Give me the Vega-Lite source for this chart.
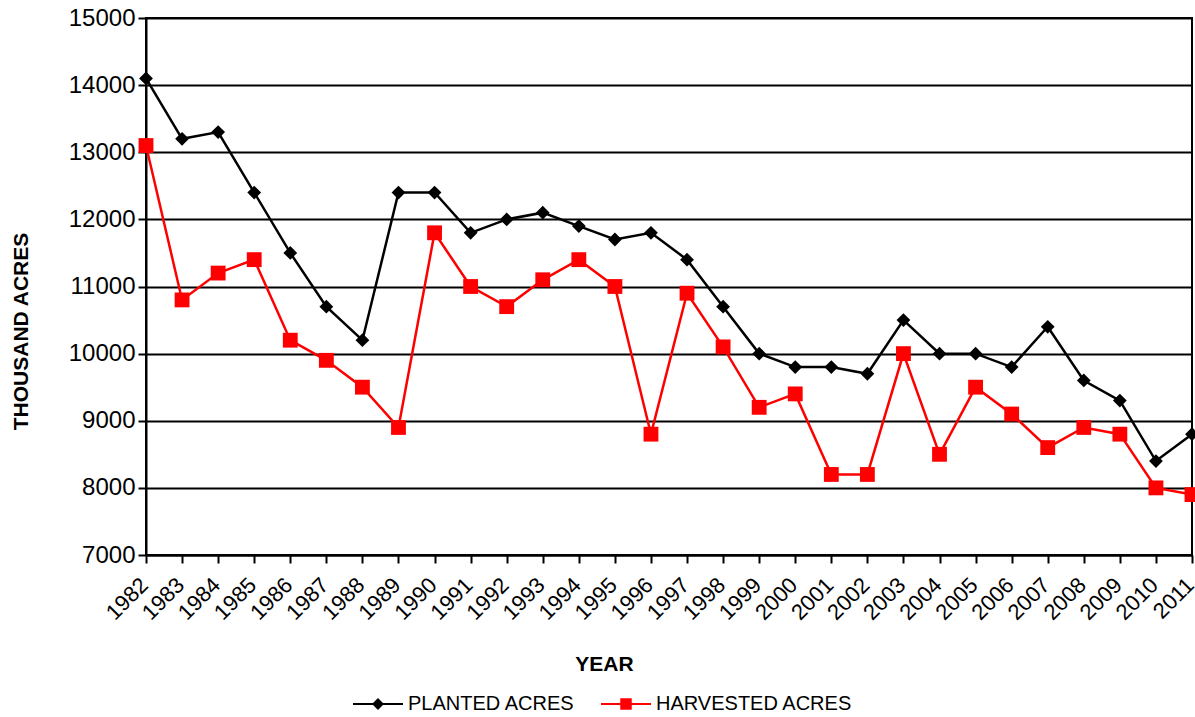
{
  "$schema": "https://vega.github.io/schema/vega-lite/v6.json",
  "autosize": {"type": "none"},
  "padding": {"left": 146, "top": 18, "right": 3, "bottom": 162},
  "width": 1046,
  "height": 537,
  "background": "white",
  "config": {"view": {"stroke": "black", "strokeWidth": 2}, "font": "Liberation Sans"},
  "data": {"values": [
    {"year": "1982", "series": "PLANTED ACRES", "acres": 14100},
    {"year": "1983", "series": "PLANTED ACRES", "acres": 13200},
    {"year": "1984", "series": "PLANTED ACRES", "acres": 13300},
    {"year": "1985", "series": "PLANTED ACRES", "acres": 12400},
    {"year": "1986", "series": "PLANTED ACRES", "acres": 11500},
    {"year": "1987", "series": "PLANTED ACRES", "acres": 10700},
    {"year": "1988", "series": "PLANTED ACRES", "acres": 10200},
    {"year": "1989", "series": "PLANTED ACRES", "acres": 12400},
    {"year": "1990", "series": "PLANTED ACRES", "acres": 12400},
    {"year": "1991", "series": "PLANTED ACRES", "acres": 11800},
    {"year": "1992", "series": "PLANTED ACRES", "acres": 12000},
    {"year": "1993", "series": "PLANTED ACRES", "acres": 12100},
    {"year": "1994", "series": "PLANTED ACRES", "acres": 11900},
    {"year": "1995", "series": "PLANTED ACRES", "acres": 11700},
    {"year": "1996", "series": "PLANTED ACRES", "acres": 11800},
    {"year": "1997", "series": "PLANTED ACRES", "acres": 11400},
    {"year": "1998", "series": "PLANTED ACRES", "acres": 10700},
    {"year": "1999", "series": "PLANTED ACRES", "acres": 10000},
    {"year": "2000", "series": "PLANTED ACRES", "acres": 9800},
    {"year": "2001", "series": "PLANTED ACRES", "acres": 9800},
    {"year": "2002", "series": "PLANTED ACRES", "acres": 9700},
    {"year": "2003", "series": "PLANTED ACRES", "acres": 10500},
    {"year": "2004", "series": "PLANTED ACRES", "acres": 10000},
    {"year": "2005", "series": "PLANTED ACRES", "acres": 10000},
    {"year": "2006", "series": "PLANTED ACRES", "acres": 9800},
    {"year": "2007", "series": "PLANTED ACRES", "acres": 10400},
    {"year": "2008", "series": "PLANTED ACRES", "acres": 9600},
    {"year": "2009", "series": "PLANTED ACRES", "acres": 9300},
    {"year": "2010", "series": "PLANTED ACRES", "acres": 8400},
    {"year": "2011", "series": "PLANTED ACRES", "acres": 8800},
    {"year": "1982", "series": "HARVESTED ACRES", "acres": 13100},
    {"year": "1983", "series": "HARVESTED ACRES", "acres": 10800},
    {"year": "1984", "series": "HARVESTED ACRES", "acres": 11200},
    {"year": "1985", "series": "HARVESTED ACRES", "acres": 11400},
    {"year": "1986", "series": "HARVESTED ACRES", "acres": 10200},
    {"year": "1987", "series": "HARVESTED ACRES", "acres": 9900},
    {"year": "1988", "series": "HARVESTED ACRES", "acres": 9500},
    {"year": "1989", "series": "HARVESTED ACRES", "acres": 8900},
    {"year": "1990", "series": "HARVESTED ACRES", "acres": 11800},
    {"year": "1991", "series": "HARVESTED ACRES", "acres": 11000},
    {"year": "1992", "series": "HARVESTED ACRES", "acres": 10700},
    {"year": "1993", "series": "HARVESTED ACRES", "acres": 11100},
    {"year": "1994", "series": "HARVESTED ACRES", "acres": 11400},
    {"year": "1995", "series": "HARVESTED ACRES", "acres": 11000},
    {"year": "1996", "series": "HARVESTED ACRES", "acres": 8800},
    {"year": "1997", "series": "HARVESTED ACRES", "acres": 10900},
    {"year": "1998", "series": "HARVESTED ACRES", "acres": 10100},
    {"year": "1999", "series": "HARVESTED ACRES", "acres": 9200},
    {"year": "2000", "series": "HARVESTED ACRES", "acres": 9400},
    {"year": "2001", "series": "HARVESTED ACRES", "acres": 8200},
    {"year": "2002", "series": "HARVESTED ACRES", "acres": 8200},
    {"year": "2003", "series": "HARVESTED ACRES", "acres": 10000},
    {"year": "2004", "series": "HARVESTED ACRES", "acres": 8500},
    {"year": "2005", "series": "HARVESTED ACRES", "acres": 9500},
    {"year": "2006", "series": "HARVESTED ACRES", "acres": 9100},
    {"year": "2007", "series": "HARVESTED ACRES", "acres": 8600},
    {"year": "2008", "series": "HARVESTED ACRES", "acres": 8900},
    {"year": "2009", "series": "HARVESTED ACRES", "acres": 8800},
    {"year": "2010", "series": "HARVESTED ACRES", "acres": 8000},
    {"year": "2011", "series": "HARVESTED ACRES", "acres": 7900}
  ]},
  "encoding": {
    "x": {
      "field": "year", "type": "ordinal",
      "scale": {"type": "point", "padding": 0},
      "axis": {
        "title": "YEAR", "titleFontSize": 21, "titleFontWeight": "bold", "titleColor": "black",
        "titleX": 458, "titleY": 115, "titleBaseline": "alphabetic", "titleAlign": "center",
        "labelAngle": -45, "labelFontSize": 22, "labelColor": "black", "labelOverlap": false,
        "labelPadding": 11, "labelOffset": -9, "tickColor": "black", "tickSize": 8, "tickWidth": 2,
        "domainColor": "black", "domainWidth": 2, "grid": false
      }
    },
    "y": {
      "field": "acres", "type": "quantitative",
      "scale": {"domain": [7000, 15000], "nice": false, "zero": false},
      "axis": {
        "title": "THOUSAND ACRES", "titleFontSize": 21, "titleFontWeight": "bold", "titleColor": "black",
        "titleX": -119, "titleY": 313, "titleBaseline": "alphabetic", "titleAlign": "center", "titleAngle": -90,
        "values": [7000, 8000, 9000, 10000, 11000, 12000, 13000, 14000, 15000],
        "format": "d",
        "labelFontSize": 24, "labelColor": "black", "labelPadding": 3,
        "tickColor": "black", "tickSize": 8, "tickWidth": 2,
        "domainColor": "black", "domainWidth": 2,
        "grid": true, "gridColor": "black", "gridWidth": 2, "gridOpacity": 1
      }
    }
  },
  "layer": [
    {
      "transform": [{"filter": "datum.series === 'PLANTED ACRES'"}],
      "mark": {"type": "line", "strokeWidth": 2.5, "color": "#000000"},
      "encoding": {}
    },
    {
      "transform": [{"filter": "datum.series === 'HARVESTED ACRES'"}],
      "mark": {"type": "line", "strokeWidth": 2.5, "color": "#ff0000"},
      "encoding": {}
    },
    {
      "transform": [{"filter": "datum.series === 'PLANTED ACRES'"}],
      "mark": {"type": "point", "filled": true, "opacity": 1, "shape": "diamond", "size": 190, "color": "#000000"}
    },
    {
      "transform": [{"filter": "datum.series === 'HARVESTED ACRES'"}],
      "mark": {"type": "point", "filled": true, "opacity": 1, "shape": "square", "size": 220, "color": "#ff0000"}
    },
    {
      "transform": [{"filter": "false"}],
      "mark": {"type": "point", "filled": false, "opacity": 1, "strokeWidth": 2},
      "encoding": {
        "color": {
          "field": "series", "type": "nominal",
          "scale": {"domain": ["PLANTED ACRES", "HARVESTED ACRES"], "range": ["#000000", "#ff0000"]},
          "legend": {
            "orient": "none", "legendX": 206, "legendY": 660, "direction": "horizontal",
            "title": null, "padding": 0, "labelLimit": 0,
            "labelFontSize": 20, "labelColor": "black", "labelOffset": 4, "columnPadding": 22,
            "symbolSize": 2500, "symbolStrokeWidth": 2, "symbolOpacity": 1
          }
        },
        "shape": {
          "field": "series", "type": "nominal",
          "scale": {"domain": ["PLANTED ACRES", "HARVESTED ACRES"], "range": [
            "M-1,0H1M-0.18,0L0,-0.18L0.18,0L0,0.18ZM-0.11,0L0,-0.11L0.11,0L0,0.11ZM-0.04,0L0,-0.04L0.04,0L0,0.04Z",
            "M-1,0H1M-0.19,-0.19H0.19V0.19H-0.19ZM-0.12,-0.12H0.12V0.12H-0.12ZM-0.05,-0.05H0.05V0.05H-0.05Z"
          ]},
          "legend": {
            "orient": "none", "legendX": 206, "legendY": 660, "direction": "horizontal",
            "title": null, "padding": 0, "labelLimit": 0,
            "labelFontSize": 20, "labelColor": "black", "labelOffset": 4, "columnPadding": 22,
            "symbolSize": 2500, "symbolStrokeWidth": 2, "symbolOpacity": 1
          }
        }
      }
    }
  ]
}
